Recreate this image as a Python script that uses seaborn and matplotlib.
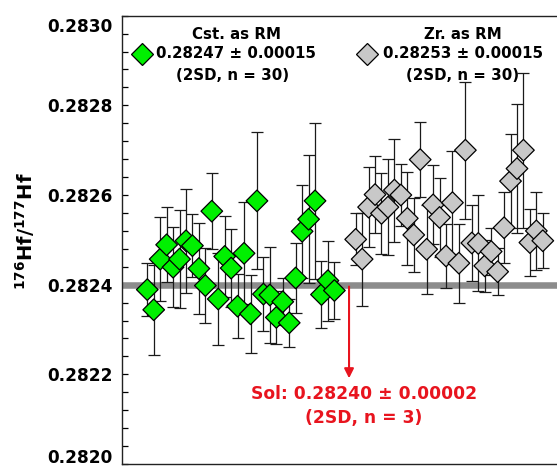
import matplotlib
matplotlib.use('Agg')
import matplotlib.pyplot as plt
import matplotlib.transforms as mtransforms
import numpy as np
import pandas as pd
import seaborn as sns

# 176Hf/177Hf values
cst_hf = [0.282389, 0.282344, 0.282457, 0.282489, 0.282439, 0.282457, 0.282498, 0.282487,
          0.282436, 0.282398, 0.282564, 0.282368, 0.282463, 0.282437, 0.282352, 0.282470,
          0.282335, 0.282587, 0.282379, 0.282377, 0.282327, 0.282362, 0.282315, 0.282415,
          0.282519, 0.282546, 0.282587, 0.282378, 0.282409, 0.282387]
cst_err = [5.9e-5, 10.0e-5, 9.3e-5, 8.4e-5, 8.9e-5, 10.9e-5, 11.6e-5, 7.0e-5, 10.2e-5, 8.3e-5,
           8.4e-5, 10.2e-5, 9.1e-5, 8.7e-5, 7.2e-5, 11.4e-5, 8.7e-5, 15.3e-5, 8.2e-5, 10.7e-5,
           5.9e-5, 5.3e-5, 5.4e-5, 7.9e-5, 10.4e-5, 14.3e-5, 17.4e-5, 7.4e-5, 8.9e-5, 6.3e-5]

zr_hf = [0.282501, 0.282457, 0.282573, 0.282601, 0.282559, 0.282573, 0.282611, 0.282600,
         0.282548, 0.282511, 0.282679, 0.282479, 0.282578, 0.282550, 0.282464, 0.282583,
         0.282448, 0.282700, 0.282493, 0.282492, 0.282442, 0.282474, 0.282429, 0.282527,
         0.282631, 0.282659, 0.282700, 0.282494, 0.282520, 0.282498]
zr_err = [5.8e-5, 10.4e-5, 9.0e-5, 8.5e-5, 9.0e-5, 10.7e-5, 11.5e-5, 7.0e-5, 10.4e-5, 8.3e-5,
          8.3e-5, 9.9e-5, 8.8e-5, 8.9e-5, 7.2e-5, 11.5e-5, 8.8e-5, 15.3e-5, 8.4e-5, 10.7e-5,
          5.8e-5, 5.2e-5, 5.2e-5, 7.9e-5, 10.4e-5, 14.3e-5, 17.3e-5, 7.4e-5, 8.7e-5, 6.1e-5]

# analysis positions (Zr group follows after a small gap)
cst_x = np.arange(1, 31)
zr_x = np.arange(1, 31) + 32.3

sol_value = 0.28240

df = pd.concat([
    pd.DataFrame({'x': cst_x, 'hf': cst_hf, 'err': cst_err, 'rm': 'Cst'}),
    pd.DataFrame({'x': zr_x, 'hf': zr_hf, 'err': zr_err, 'rm': 'Zr'}),
])

sns.set_style('ticks')
plt.rcParams['font.family'] = ['DejaVu Sans']
plt.rcParams['font.weight'] = 'bold'
plt.rcParams['mathtext.fontset'] = 'dejavusans'
plt.rcParams['text.color'] = 'black'
plt.rcParams['axes.labelcolor'] = 'black'
plt.rcParams['ytick.color'] = 'black'
plt.rcParams['ytick.labelcolor'] = 'black'

fig = plt.figure(figsize=(5.57, 4.67), dpi=100)
ax = fig.add_axes([0.219, 0.0064, 0.781, 0.96])

# Solution value band
ax.axhline(sol_value, color='#8c8c8c', lw=4.7, zorder=1)

# Error bars
ax.errorbar(df['x'], df['hf'], yerr=df['err'], fmt='none', ecolor='#1a1a1a',
            elinewidth=0.9, capsize=4, capthick=0.9, zorder=2)

# Diamonds
sns.scatterplot(data=df, x='x', y='hf', hue='rm', palette={'Cst': '#00f000', 'Zr': '#c8c8c8'},
                marker='D', s=121, edgecolor='black', linewidth=0.9, legend=False, ax=ax, zorder=3)

ax.set_xlim(-2.92, 64.5)
ax.set_ylim(0.2820, 0.2830)
ax.set_yticks([0.2820, 0.2822, 0.2824, 0.2826, 0.2828, 0.2830])
ax.set_yticklabels(['0.2820', '0.2822', '0.2824', '0.2826', '0.2828', '0.2830'])
ax.set_yticks(np.arange(0.2820, 0.28301, 0.00004), minor=True)
ax.tick_params(axis='y', which='both', direction='in', length=4, width=0.9, labelsize=12.2, pad=7,
               colors='black')
ax.set_xticks([])
ax.set_xlabel('')
ax.set_ylabel(r'$^{176}$Hf/$^{177}$Hf', fontsize=14, fontweight='bold', color='black')
ax.yaxis.set_label_coords(-0.195, 0.52)
ax.spines['right'].set_visible(False)
for s in ['left', 'top', 'bottom']:
    ax.spines[s].set_linewidth(1.0)
    ax.spines[s].set_color('#222222')

# end labels sit inside the frame like the original
labels = ax.get_yticklabels()
labels[0].set_transform(labels[0].get_transform() + mtransforms.ScaledTranslation(0, 8 / 100, fig.dpi_scale_trans))
labels[-1].set_transform(labels[-1].get_transform() + mtransforms.ScaledTranslation(0, -9 / 100, fig.dpi_scale_trans))

# Legend-like annotations
ax.text(0.264, 0.957, 'Cst. as RM', transform=ax.transAxes, ha='center', va='center', fontsize=10.8)
ax.plot([0.046], [0.9146], transform=ax.transAxes, marker='D', ms=11, color='#00f000',
        mec='black', mew=0.9, clip_on=False)
ax.text(0.263, 0.9146, '0.28247 ± 0.00015', transform=ax.transAxes, ha='center', va='center', fontsize=10.8)
ax.text(0.255, 0.8655, '(2SD, n = 30)', transform=ax.transAxes, ha='center', va='center', fontsize=10.8)

ax.text(0.784, 0.957, 'Zr. as RM', transform=ax.transAxes, ha='center', va='center', fontsize=10.8)
ax.plot([0.563], [0.9146], transform=ax.transAxes, marker='D', ms=11, color='#c8c8c8',
        mec='black', mew=0.9, clip_on=False)
ax.text(0.785, 0.9146, '0.28253 ± 0.00015', transform=ax.transAxes, ha='center', va='center', fontsize=10.8)
ax.text(0.784, 0.8655, '(2SD, n = 30)', transform=ax.transAxes, ha='center', va='center', fontsize=10.8)

# Solution arrow and text
red = '#e8141e'
ax.annotate('', xy=(32.27, 0.282185), xytext=(32.27, 0.282402),
            arrowprops=dict(arrowstyle='-|>', color=red, lw=1.5, mutation_scale=14), zorder=4)
ax.text(34.6, 0.282156, 'Sol: 0.28240 ± 0.00002', ha='center', va='center', fontsize=12.3, color=red)
ax.text(34.6, 0.282103, '(2SD, n = 3)', ha='center', va='center', fontsize=12.3, color=red)

fig.savefig('out.png', dpi=100)
